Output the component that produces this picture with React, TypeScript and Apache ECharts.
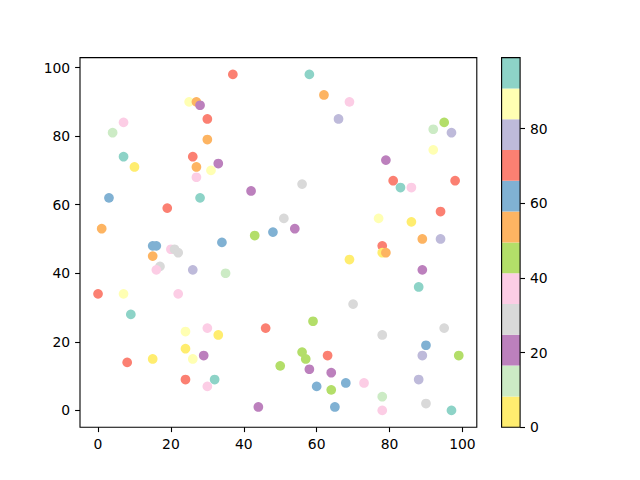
import React, { useEffect, useRef } from "react";
import * as echarts from "echarts";

const X = [37,25,27,28,30,7,4,30,7,10,26,27,33,31,27,58,62,69,66,95,92,97,92,79,56,81,83,86,98,42,3,28,19,1,43,48,34,15,16,15,20,21,22,17,16,26,35,0,7,22,51,54,77,86,94,89,94,78,78,79,69,89,88,70,9,24,30,33,46,24,29,26,15,8,50,24,32,30,44,59,78,95,56,57,63,58,64,90,89,99,60,68,73,64,88,78,65,78,90,97];
const Y = [98,90,90,89,85,84,81,79,74,71,74,71,72,70,68,98,92,90,85,84,82,81,76,73,66,67,65,65,67,64,62,62,59,53,51,52,49,48,48,45,47,47,46,42,41,41,40,34,34,34,56,53,56,55,58,50,50,48,46,46,44,41,36,31,28,23,24,22,24,18,16,15,15,14,13,9,9,7,1,26,22,24,17,15,16,12,11,19,16,16,7,8,8,6,9,4,1,0,2,0];
const C = [70,87,54,21,70,37,12,54,95,4,70,54,21,87,37,95,54,37,78,45,12,78,87,21,29,70,95,37,70,21,62,95,70,54,45,62,62,62,62,54,37,29,29,29,37,78,12,70,87,37,29,21,87,4,70,54,78,70,4,54,4,21,95,29,95,87,37,4,70,4,21,87,4,70,45,70,95,37,21,45,29,29,45,45,70,21,21,62,78,45,62,62,37,45,78,12,62,37,29,95];

const CMAP = ["#ffed6f","#ccebc5","#bc80bd","#d9d9d9","#fccde5","#b3de69","#fdb462","#80b1d3","#fb8072","#bebada","#ffffb3","#8dd3c7"];
const C_MIN = 0;
const C_MAX = 99;
const TICKS = [0, 20, 40, 60, 80, 100];
const CB_TICKS = [0, 20, 40, 60, 80];

export default function App() {
  const ref = useRef<HTMLDivElement>(null);
  useEffect(() => {
    if (!ref.current) return;
    const chart = echarts.init(ref.current, null, { renderer: "svg" });
    const binW = (C_MAX - C_MIN) / CMAP.length;
    const xmin = Math.min(...X), xmax = Math.max(...X);
    const ymin = Math.min(...Y), ymax = Math.max(...Y);
    const xm = (xmax - xmin) * 0.05, ym = (ymax - ymin) * 0.05;
    const font = { fontFamily: "DejaVu Sans", fontSize: 13.9, color: "#000" };
    const tick = { show: true, length: 4.9, lineStyle: { color: "#000", width: 1.1 } };
    const data = X.map((x, i) => [x, Y[i], C[i]]);
    const pieces = CMAP.map((color, k) => ({ gte: C_MIN + k * binW, lt: C_MIN + (k + 1) * binW + (k === CMAP.length - 1 ? 1 : 0), color }));
    chart.setOption({
      animation: false,
      backgroundColor: "#fff",
      grid: [
        { left: 80, top: 57.6, width: 396.8, height: 369.6, show: true, borderColor: "#000", borderWidth: 1.1, backgroundColor: "transparent", z: 5 },
        { left: 501.6, top: 57.6, width: 18.5, height: 369.6, show: true, borderColor: "#000", borderWidth: 1.1, backgroundColor: "transparent", z: 5 },
      ],
      visualMap: {
        type: "piecewise",
        show: false,
        seriesIndex: 0,
        dimension: 2,
        pieces,
      },
      xAxis: [
        {
          type: "value", gridIndex: 0, min: xmin - xm, max: xmax + xm, position: "bottom",
          axisLine: { show: false, onZero: false }, splitLine: { show: false },
          axisTick: { ...tick, customValues: TICKS },
          axisLabel: { ...font, margin: 9.8, customValues: TICKS },
        },
        {
          type: "category", gridIndex: 1, data: ["cb"], show: false, boundaryGap: true,
        },
      ],
      yAxis: [
        {
          type: "value", gridIndex: 0, min: ymin - ym, max: ymax + ym, position: "left",
          axisLine: { show: false, onZero: false }, splitLine: { show: false },
          axisTick: { ...tick, customValues: TICKS },
          axisLabel: { ...font, margin: 9.8, customValues: TICKS },
        },
        {
          type: "value", gridIndex: 1, min: C_MIN, max: C_MAX, position: "right",
          axisLine: { show: false }, splitLine: { show: false },
          axisTick: { ...tick, customValues: CB_TICKS },
          axisLabel: { ...font, margin: 9.8, customValues: CB_TICKS },
        },
      ],
      series: [
        {
          type: "scatter", xAxisIndex: 0, yAxisIndex: 0, data, symbolSize: 9.7,
          itemStyle: { opacity: 1 },
        },
        ...CMAP.map((color) => ({
          type: "bar", xAxisIndex: 1, yAxisIndex: 1, stack: "cb", data: [binW],
          barWidth: "100%", itemStyle: { color }, silent: true,
        })),
      ],
    });
    return () => chart.dispose();
  }, []);
  return <div ref={ref} style={{ position: "fixed", left: 0, top: 0, width: 640, height: 480 }} />;
}
